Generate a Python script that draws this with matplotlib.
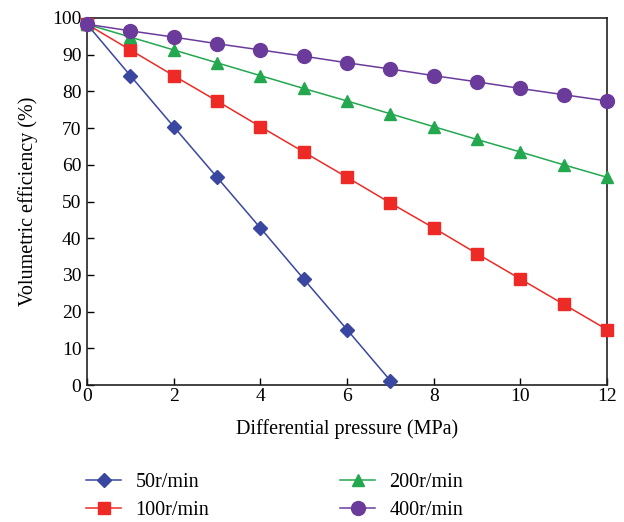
import matplotlib
matplotlib.use("Agg")
import matplotlib.pyplot as plt

plt.rcParams['font.family'] = ['Liberation Serif', 'DejaVu Serif']

pressure_50 = [0, 1, 2, 3, 4, 5, 6, 7]
eff_50 = [98.3, 84.3, 70.4, 56.6, 42.8, 28.9, 15.1, 1.2]
pressure = list(range(13))
eff_100 = [98.3, 91.3, 84.3, 77.4, 70.4, 63.5, 56.6, 49.6, 42.8, 35.8, 28.9, 22.0, 15.1]
eff_200 = [98.3, 94.8, 91.3, 87.8, 84.3, 80.8, 77.4, 73.9, 70.4, 66.9, 63.5, 60.0, 56.6]
eff_400 = [98.3, 96.5, 94.8, 93.0, 91.3, 89.6, 87.8, 86.1, 84.3, 82.6, 80.8, 79.1, 77.4]
labels = ['50r/min', '100r/min', '200r/min', '400r/min']
xticks = [0, 2, 4, 6, 8, 10, 12]
yticks = list(range(0, 101, 10))

fig = plt.figure(figsize=(6.24, 5.22), dpi=100)
ax = fig.add_axes([87/624, 1-385/522, (607-87)/624, (385-18)/522])

ax.plot(pressure_50, eff_50, color='#3A47A0', marker='D', markersize=7, lw=1.1, label=labels[0], zorder=3)
ax.plot(pressure, eff_100, color='#EE2A26', marker='s', markersize=9, lw=1.1, label=labels[1], zorder=3)
ax.plot(pressure, eff_200, color='#23A84F', marker='^', markersize=9, lw=1.1, label=labels[2], zorder=3)
ax.plot(pressure, eff_400, color='#6B3B9C', marker='o', markersize=10, lw=1.1, label=labels[3], zorder=4)

ax.set_xlim(0, 12)
ax.set_ylim(0, 100)
ax.set_xticks(xticks)
ax.set_yticks(yticks)
ax.tick_params(direction='in', labelsize=14, length=5, width=1, pad=4)
ax.tick_params(axis='x', pad=2)
for s in ax.spines.values():
    s.set_linewidth(1.2)
    s.set_color('#222222')
for line in ax.lines:
    line.set_clip_on(False)

ax.set_xlabel('Differential pressure (MPa)', fontsize=14.5, labelpad=10)
ax.set_ylabel('Volumetric efficiency (%)', fontsize=14.5, labelpad=10)

handles, labs = ax.get_legend_handles_labels()
leg = fig.legend(handles, labs, ncol=2, loc='upper left',
                 bbox_to_anchor=(86/624, 1-473/522), frameon=False,
                 fontsize=14.5, handlelength=1.75, handletextpad=0.7,
                 columnspacing=6.5, labelspacing=0.42, borderpad=0, borderaxespad=0)

fig.savefig('out.png', dpi=100)
